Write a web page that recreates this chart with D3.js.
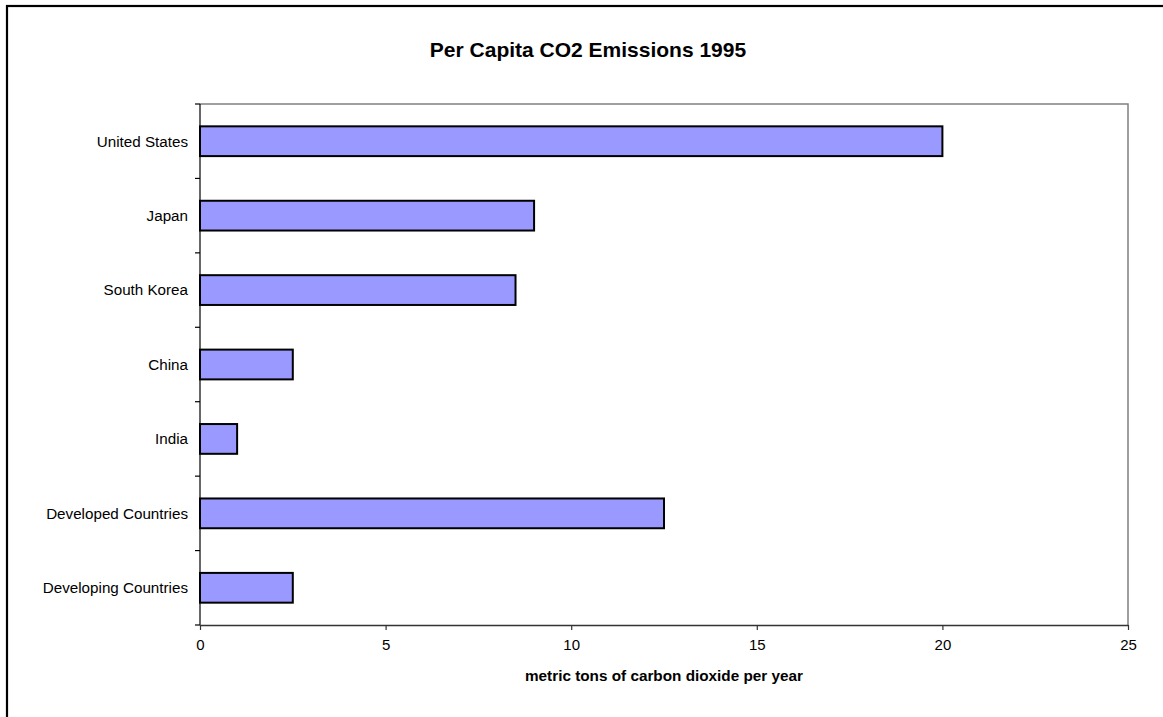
<!DOCTYPE html>
<html>
<head>
<meta charset="utf-8">
<script src="https://cdn.jsdelivr.net/npm/d3@7"></script>
<style>
  html, body { margin: 0; padding: 0; background: #fff; }
  svg { display: block; font-family: Arial, "Liberation Sans", sans-serif; }
</style>
</head>
<body>
<svg id="chart" width="1163" height="717"></svg>
<script>
// Per capita CO2 emissions, 1995 (metric tons per person per year)
const categories = ["United States", "Japan", "South Korea", "China", "India", "Developed Countries", "Developing Countries"];
const emissions = [20, 9, 8.5, 2.5, 1, 12.5, 2.5];
const xTicks = [0, 5, 10, 15, 20, 25];
const chartTitle = "Per Capita CO2 Emissions 1995";
const xTitle = "metric tons of carbon dioxide per year";

const svg = d3.select("#chart");
const plot = { left: 200, right: 1128, top: 104, bottom: 625 };

// Outer chart frame (extends beyond the right and bottom edges)
svg.append("rect")
  .attr("x", 7).attr("y", 6)
  .attr("width", 1200).attr("height", 760)
  .attr("fill", "none").attr("stroke", "#000").attr("stroke-width", 2.2);

const x = d3.scaleLinear().domain([0, 25]).range([plot.left, plot.right]);
const y = d3.scaleBand().domain(categories)
  .range([plot.top, plot.bottom])
  .paddingInner(0.6).paddingOuter(0.3);

// Plot area border (grey, top and right)
svg.append("path")
  .attr("d", `M${plot.left},${plot.top}H${plot.right}V${plot.bottom}`)
  .attr("fill", "none").attr("stroke", "#808080").attr("stroke-width", 1.5);

// Bars
svg.append("g").selectAll("rect")
  .data(categories)
  .join("rect")
  .attr("x", x(0))
  .attr("y", d => y(d))
  .attr("width", (d, i) => x(emissions[i]) - x(0))
  .attr("height", y.bandwidth())
  .attr("fill", "#9999FF")
  .attr("stroke", "#000")
  .attr("stroke-width", 2);

// Category axis: ticks at band boundaries, labels centred in bands
const yAxis = svg.append("g");
yAxis.append("line")
  .attr("x1", plot.left).attr("x2", plot.left)
  .attr("y1", plot.top).attr("y2", plot.bottom)
  .attr("stroke", "#000").attr("stroke-width", 1.2);
const boundaries = d3.range(categories.length + 1).map(i => plot.top + i * y.step());
yAxis.selectAll("line.tick")
  .data(boundaries)
  .join("line")
  .attr("class", "tick")
  .attr("x1", plot.left - 5).attr("x2", plot.left)
  .attr("y1", d => d).attr("y2", d => d)
  .attr("stroke", "#000").attr("stroke-width", 1.2);
yAxis.selectAll("text")
  .data(categories)
  .join("text")
  .attr("x", 188)
  .attr("y", d => y(d) + y.bandwidth() / 2)
  .attr("dy", "0.35em")
  .attr("text-anchor", "end")
  .attr("font-size", "15.2px")
  .attr("fill", "#000")
  .text(d => d);

// Value axis
const xAxis = svg.append("g")
  .attr("transform", `translate(0,${plot.bottom})`)
  .call(d3.axisBottom(x).tickValues(xTicks).tickSize(5).tickPadding(9).tickSizeOuter(0));
xAxis.select(".domain").attr("stroke", "#333").attr("stroke-width", 1.5);
xAxis.selectAll(".tick line").attr("stroke", "#333").attr("stroke-width", 1.2);
xAxis.selectAll(".tick text")
  .attr("font-size", "15px")
  .attr("font-family", "Arial, 'Liberation Sans', sans-serif")
  .attr("fill", "#000");

// Titles
svg.append("text")
  .attr("x", 588).attr("y", 57)
  .attr("text-anchor", "middle")
  .attr("font-size", "21px").attr("font-weight", "bold")
  .text(chartTitle);

svg.append("text")
  .attr("x", (plot.left + plot.right) / 2).attr("y", 681)
  .attr("text-anchor", "middle")
  .attr("font-size", "15.3px").attr("font-weight", "bold")
  .text(xTitle);
</script>
</body>
</html>
